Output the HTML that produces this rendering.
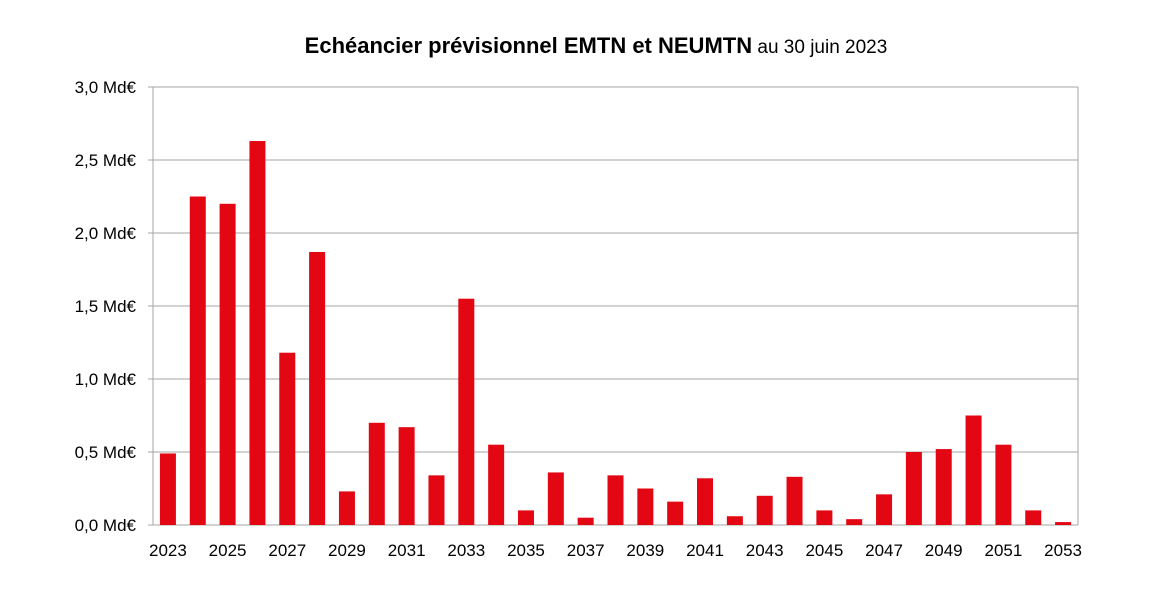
<!DOCTYPE html>
<html><head><meta charset="utf-8"><style>
body{margin:0;background:#fff;}
svg{display:block;font-family:"Liberation Sans",sans-serif;}
</style></head><body>
<svg id="chart" width="1150" height="610">
<text x="596" y="53" text-anchor="middle" font-size="22" fill="#000"><tspan font-weight="bold">Echéancier prévisionnel EMTN et NEUMTN</tspan><tspan font-size="19"> au 30 juin 2023</tspan></text>
<g id="grid"></g><g id="bars"></g><g id="xlabels"></g><g id="ylabels"></g>
</svg>
<script>
const years=[2023,2024,2025,2026,2027,2028,2029,2030,2031,2032,2033,2034,2035,2036,2037,2038,2039,2040,2041,2042,2043,2044,2045,2046,2047,2048,2049,2050,2051,2052,2053];
const values=[0.49,2.25,2.20,2.63,1.18,1.87,0.23,0.70,0.67,0.34,1.55,0.55,0.10,0.36,0.05,0.34,0.25,0.16,0.32,0.06,0.20,0.33,0.10,0.04,0.21,0.50,0.52,0.75,0.55,0.10,0.02];
const yTicks=[0,0.5,1.0,1.5,2.0,2.5,3.0];
const yTickLabels=["0,0 Md€","0,5 Md€","1,0 Md€","1,5 Md€","2,0 Md€","2,5 Md€","3,0 Md€"];
const NS="http://www.w3.org/2000/svg";
const L=153,R=1078,T=87,B=525,yMax=3.0;
const slot=(R-L)/years.length;
const xC=i=>L+slot*(i+0.5);
const y=v=>B-(v/yMax)*(B-T);
function mk(tag,attrs,parent){const e=document.createElementNS(NS,tag);for(const k in attrs)e.setAttribute(k,attrs[k]);document.getElementById(parent).appendChild(e);return e;}
yTicks.forEach((t,i)=>{
  const ln=mk('line',{x1:L-5,x2:R,y1:y(t),y2:y(t),stroke:'#a6a6a6','stroke-width':1},'grid');
  
  
  const tx=mk('text',{x:L-17,y:y(t)+6,'text-anchor':'end','font-size':17,fill:'#000'},'ylabels');
  tx.textContent=yTickLabels[i];
  
  
});
const ax=mk('line',{x1:L,x2:L,y1:T,y2:B,stroke:'#a6a6a6'},'grid');


const rb=mk('line',{x1:R,x2:R,y1:T,y2:B,stroke:'#a6a6a6'},'grid');


const bw=16;
values.forEach((v,i)=>{
  const r=mk('rect',{x:xC(i)-bw/2,y:y(v),width:bw,height:B-y(v),fill:'#e30613'},'bars');
  
  
  if(i%2===0){
    const tx=mk('text',{x:xC(i),y:B+31,'text-anchor':'middle','font-size':17,fill:'#000'},'xlabels');
    tx.textContent=years[i];
    
    
  }
});
</script>
</body></html>
